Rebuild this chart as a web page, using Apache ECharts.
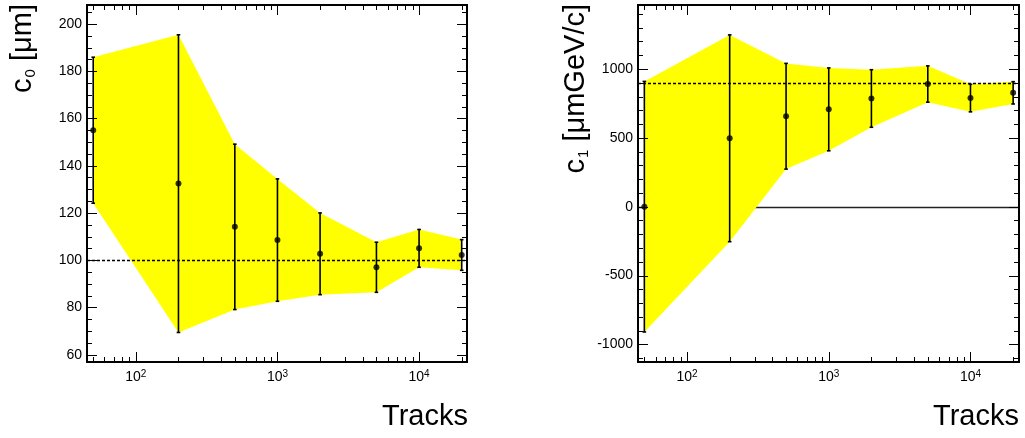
<!DOCTYPE html>
<html>
<head>
<meta charset="utf-8">
<script src="https://cdn.jsdelivr.net/npm/echarts@6/dist/echarts.min.js"></script>
<style>
  html, body { margin: 0; padding: 0; background: #fff; }
  #chart { width: 1025px; height: 438px; }
</style>
</head>
<body>
<div id="chart"></div>
<script>
// Number of tracks used in each fit
const tracks = [50, 200, 500, 1000, 2000, 5000, 10000, 20000];

// c0 fit results [um] and their errors
const c0Value = [155.0, 132.4, 114.1, 108.5, 102.7, 97.0, 105.0, 102.2];
const c0Error = [30.9, 63.0, 35.0, 25.9, 17.3, 10.6, 8.0, 6.5];
const c0True = 100;

// c1 fit results [um GeV/c] and their errors
const c1Value = [0, 497, 657, 707, 786, 891, 789, 827];
const c1Error = [910, 751, 384, 301, 209, 132, 100, 81];
const c1True = 900;
const c1Zero = 0;

// tick labels
const c0Ticks = [60, 80, 100, 120, 140, 160, 180, 200];
const c1Ticks = [-1000, -500, 0, 500, 1000];

const FONT = 'Liberation Sans';

// tick values of the log axis: 1..9 x 10^k (1 x 10^k is a major tick)
const xTickValues = [];
[10, 100, 1000, 10000].forEach(function (k) {
  for (let m = 1; m <= 9; m++) xTickValues.push({ v: m * k, major: m === 1 });
});

function linearTicks(from, to, step, majors) {
  const out = [];
  for (let v = from; v <= to + 1e-9; v += step) {
    out.push({ v: v, major: majors.indexOf(v) >= 0 });
  }
  return out;
}
const c0TickValues = linearTicks(60, 205, 5, c0Ticks);
const c1TickValues = linearTicks(-1100, 1400, 100, c1Ticks);

function decadeLabel(v) {
  const e = Math.log10(v);
  const r = Math.round(e);
  if (Math.abs(e - r) > 1e-6) return '';
  return '{b|10}{s|' + r + '}';
}

function xAxisFor(gi, min, max) {
  return {
    type: 'log', logBase: 10, gridIndex: gi, min: min, max: max,
    axisLine: { show: false }, axisTick: { show: false }, splitLine: { show: false },
    axisLabel: {
      formatter: decadeLabel, margin: 7, color: '#000',
      rich: {
        b: { fontSize: 14, fontFamily: FONT, color: '#000', lineHeight: 16 },
        s: { fontSize: 10, fontFamily: FONT, color: '#000', padding: [0, 0, 6, 0], lineHeight: 10 }
      }
    }
  };
}

function yAxisFor(gi, min, max, ticks) {
  return {
    type: 'value', gridIndex: gi, min: min, max: max,
    axisLine: { show: false }, axisTick: { show: false }, splitLine: { show: false },
    axisLabel: {
      customValues: ticks, margin: 5, fontSize: 14, fontFamily: FONT, color: '#000',
      formatter: function (v) { return String(v); }
    }
  };
}

// yellow band spanning value +- error
function bandSeries(gi, values, errors) {
  return {
    type: 'custom', xAxisIndex: gi, yAxisIndex: gi,
    data: [[tracks[0], values[0]]],
    encode: { x: 0, y: 1 },
    silent: true,
    renderItem: function (params, api) {
      const upper = tracks.map(function (t, i) { return api.coord([t, values[i] + errors[i]]); });
      const lower = tracks.map(function (t, i) { return api.coord([t, values[i] - errors[i]]); }).reverse();
      return { type: 'polygon', shape: { points: upper.concat(lower) }, style: { fill: '#ffff00' } };
    }
  };
}

// horizontal reference line across the frame
function hlineSeries(gi, value, dashed) {
  return {
    type: 'custom', xAxisIndex: gi, yAxisIndex: gi,
    data: [[tracks[0], value]],
    encode: { x: 0, y: 1 },
    silent: true,
    renderItem: function (params, api) {
      const cs = params.coordSys;
      const y = Math.round(api.coord([api.value(0), api.value(1)])[1]) + 0.5;
      return {
        type: 'line',
        shape: { x1: cs.x, y1: y, x2: cs.x + cs.width, y2: y },
        style: dashed
          ? { stroke: '#000', lineWidth: 1.4, lineDash: [3, 2] }
          : { stroke: '#222', lineWidth: 1.5 }
      };
    }
  };
}

function errorBarSeries(gi, values, errors) {
  return {
    type: 'custom', xAxisIndex: gi, yAxisIndex: gi,
    data: tracks.map(function (t, i) { return [t, values[i] - errors[i], values[i] + errors[i]]; }),
    encode: { x: 0, y: [1, 2] },
    silent: true,
    renderItem: function (params, api) {
      const lo = api.coord([api.value(0), api.value(1)]);
      const hi = api.coord([api.value(0), api.value(2)]);
      const st = { stroke: '#000', lineWidth: 1.6 };
      return {
        type: 'group',
        children: [
          { type: 'line', shape: { x1: lo[0], y1: lo[1], x2: hi[0], y2: hi[1] }, style: st },
          { type: 'line', shape: { x1: lo[0] - 1.8, y1: lo[1], x2: lo[0] + 1.8, y2: lo[1] }, style: st },
          { type: 'line', shape: { x1: hi[0] - 1.8, y1: hi[1], x2: hi[0] + 1.8, y2: hi[1] }, style: st }
        ]
      };
    }
  };
}

function pointSeries(gi, values) {
  return {
    type: 'scatter', xAxisIndex: gi, yAxisIndex: gi,
    data: tracks.map(function (t, i) { return [t, values[i]]; }),
    symbol: 'circle', symbolSize: 6,
    itemStyle: { color: '#000' },
    silent: true
  };
}

// inward ticks on all four sides of the frame
function frameTickSeries(gi, yTicks) {
  return {
    type: 'custom', xAxisIndex: gi, yAxisIndex: gi,
    data: [[tracks[0], yTicks[0].v]],
    encode: { x: 0, y: 1 },
    silent: true,
    renderItem: function (params, api) {
      const cs = params.coordSys;
      const left = cs.x, right = cs.x + cs.width, top = cs.y, bottom = cs.y + cs.height;
      const children = [];
      const st = { stroke: '#000', lineWidth: 1 };
      function seg(x1, y1, x2, y2) {
        children.push({ type: 'line', shape: { x1: x1, y1: y1, x2: x2, y2: y2 }, style: st });
      }
      xTickValues.forEach(function (t) {
        const x = Math.round(api.coord([t.v, yTicks[0].v])[0]) + 0.5;
        if (x < left + 1 || x > right - 1) return;
        const len = t.major ? 10 : 5;
        seg(x, bottom, x, bottom - len);
        seg(x, top, x, top + len);
      });
      yTicks.forEach(function (t) {
        const y = Math.round(api.coord([tracks[0], t.v])[1]) + 0.5;
        if (y < top + 1 || y > bottom - 1) return;
        const len = t.major ? 10 : 5;
        seg(left, y, left + len, y);
        seg(right, y, right - len, y);
      });
      return { type: 'group', children: children };
    }
  };
}

function yTitle(x, sub, rest) {
  return {
    type: 'text', x: x, y: 4, rotation: Math.PI / 2,
    style: {
      text: '{m|c}{s|' + sub + '}{m|' + rest + '}',
      align: 'right', verticalAlign: 'top', fill: '#000',
      rich: {
        m: { fontSize: 29, fontFamily: FONT, lineHeight: 34, verticalAlign: 'top', fill: '#000' },
        s: { fontSize: 15, fontFamily: FONT, lineHeight: 15, verticalAlign: 'top', padding: [15, 0, 0, 1], fill: '#000' }
      }
    }
  };
}

function xTitle(x) {
  return {
    type: 'text', x: x, y: 416.5,
    style: { text: 'Tracks', font: '29px "Liberation Sans"', fill: '#000', align: 'right', verticalAlign: 'middle' }
  };
}

const option = {
  animation: false,
  backgroundColor: '#fff',
  textStyle: { fontFamily: FONT },
  grid: [
    { left: 87, top: 5, width: 380, height: 357, show: true, borderColor: '#000', borderWidth: 2, backgroundColor: 'transparent' },
    { left: 638, top: 5, width: 381, height: 357, show: true, borderColor: '#000', borderWidth: 2, backgroundColor: 'transparent' }
  ],
  xAxis: [xAxisFor(0, 45.2, 21800), xAxisFor(1, 45.1, 22000)],
  yAxis: [yAxisFor(0, 56.9, 208.0, c0Ticks), yAxisFor(1, -1128, 1465, c1Ticks)],
  series: [
    hlineSeries(1, c1Zero, false),
    bandSeries(0, c0Value, c0Error),
    bandSeries(1, c1Value, c1Error),
    hlineSeries(0, c0True, true),
    hlineSeries(1, c1True, true),
    errorBarSeries(0, c0Value, c0Error),
    errorBarSeries(1, c1Value, c1Error),
    pointSeries(0, c0Value),
    pointSeries(1, c1Value),
    frameTickSeries(0, c0TickValues),
    frameTickSeries(1, c1TickValues)
  ],
  graphic: [
    yTitle(8, '0', ' [μm]'),
    yTitle(561, '1', ' [μmGeV/c]'),
    xTitle(468),
    xTitle(1019)
  ]
};

const chart = echarts.init(document.getElementById('chart'));
chart.setOption(option);
</script>
</body>
</html>
